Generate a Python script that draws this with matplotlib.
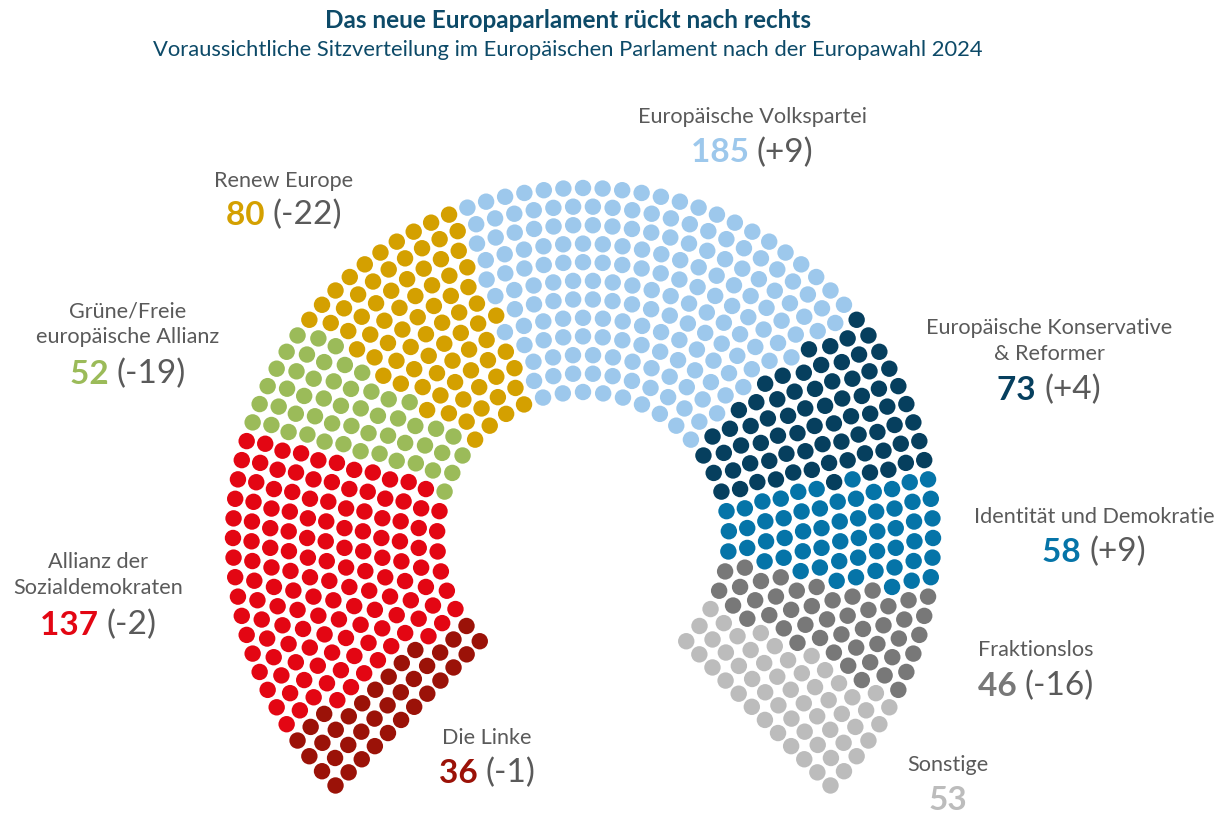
import matplotlib
matplotlib.use('Agg')
import matplotlib.pyplot as plt
from matplotlib.patches import Circle
from matplotlib.collections import PatchCollection
import numpy as np

# seat data, ordered left (bottom) to right (bottom)
parties = ['Die Linke', 'S&D', 'Grüne/EFA', 'Renew Europe', 'EVP', 'EKR', 'ID',
           'Fraktionslos', 'Sonstige']
seats = [36, 137, 52, 80, 185, 73, 58, 46, 53]
changes = ['(-1)', '(-2)', '(-19)', '(-22)', '(+9)', '(+4)', '(+9)', '(-16)', '']
colors = ['#9b1208', '#e30613', '#9bbb59', '#d4a000', '#9dc8ec', '#063f5e',
          '#0574a8', '#787878', '#bcbcbc']
label_lines = [['Die Linke'],
               ['Allianz der', 'Sozialdemokraten'],
               ['Grüne/Freie', 'europäische Allianz'],
               ['Renew Europe'],
               ['Europäische Volkspartei'],
               ['Europäische Konservative', '& Reformer'],
               ['Identität und Demokratie'],
               ['Fraktionslos'],
               ['Sonstige']]

plt.rcParams['font.family'] = ['Lato', 'DejaVu Sans']

fig = plt.figure(figsize=(12.28, 8.13), dpi=100)
ax = fig.add_axes([0, 0, 1, 1])
ax.set_xlim(0, 1228)
ax.set_ylim(813, 0)
ax.axis('off')

# hemicycle geometry (pixels)
cx, cy = 583, 538
r_in, r_out = 146, 350
n_rows = 12
a_start, a_end = np.radians(225), np.radians(-45)
dot_r = 8.2

total = sum(seats)
radii = np.linspace(r_in, r_out, n_rows)
raw = total * radii / radii.sum()
counts = np.floor(raw).astype(int)
rest = total - counts.sum()
order = np.argsort(-(raw - counts))
counts[order[:rest]] += 1

pos = []
for r, n in zip(radii, counts):
    for a in np.linspace(a_start, a_end, n):
        pos.append((a, r))
pos.sort(key=lambda p: (-p[0], p[1]))

seat_colors = []
for c, n in zip(colors, seats):
    seat_colors += [c] * n

circles = []
for (a, r) in pos:
    circles.append(Circle((cx + r * np.cos(a), cy - r * np.sin(a)), dot_r))
ax.add_collection(PatchCollection(circles, facecolors=seat_colors, edgecolors='none'))

# labels: x centre, first text line, number line
label_pos = [(487, 738, 773), (98, 562, 625), (128, 311, 374), (284, 181, 215),
             (752, 117, 153), (1049, 328, 390), (1094, 517, 552), (1036, 650, 686),
             (948, 765, 800)]
gray = '#5a5a5a'
lab_fs = 15.6
num_fs = 24
for i in range(len(parties)):
    x, y0, y1 = label_pos[i]
    for j, line in enumerate(label_lines[i]):
        ax.text(x, y0 + j * 26, line, ha='center', va='center', fontsize=lab_fs, color=gray)
    num = str(seats[i])
    if changes[i]:
        t1 = ax.text(0, y1, num + ' ', fontsize=num_fs, fontweight='bold', color=colors[i],
                     va='center', ha='left')
        t2 = ax.text(0, y1, changes[i], fontsize=num_fs, color=gray, va='center', ha='left')
        fig.canvas.draw()
        w1 = t1.get_window_extent().width
        w2 = t2.get_window_extent().width
        left = x - (w1 + w2) / 2
        t1.set_x(left)
        t2.set_x(left + w1)
    else:
        ax.text(x, y1, num, fontsize=num_fs, fontweight='bold', color=colors[i],
                va='center', ha='center')

ax.text(568, 21, 'Das neue Europaparlament rückt nach rechts', ha='center', va='center',
        fontsize=17.5, fontweight='bold', color='#0d4a68')
ax.text(568, 50, 'Voraussichtliche Sitzverteilung im Europäischen Parlament nach der Europawahl 2024',
        ha='center', va='center', fontsize=15.8, color='#0d4a68')

fig.savefig('out.png', dpi=100)
